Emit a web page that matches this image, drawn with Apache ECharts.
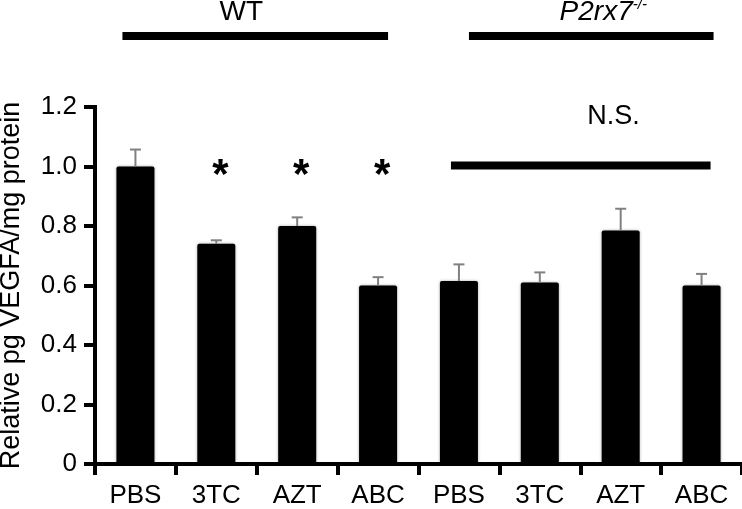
<!DOCTYPE html>
<html><head><meta charset="utf-8">
<script src="https://cdn.jsdelivr.net/npm/echarts@6/dist/echarts.min.js"></script>
<style>html,body{margin:0;padding:0;background:#fff}#c{width:742px;height:509px}</style>
</head><body><div id="c"></div>
<script>
// ---- data ----
const categories = ['PBS', '3TC', 'AZT', 'ABC', 'PBS', '3TC', 'AZT', 'ABC'];
const means = [1.00, 0.74, 0.80, 0.60, 0.615, 0.61, 0.785, 0.60];
const errors = [0.057, 0.012, 0.029, 0.028, 0.056, 0.034, 0.073, 0.039];
const starIndices = [1, 2, 3];
const starLevel = 1.0;
const groupNames = ['WT', 'P2rx7'];
const groupSup = ['', '-/-'];
const groupFrom = [0, 4];
const groupTo = [3, 7];
const nsFrom = 4, nsTo = 7, nsLevel = 1.0;
const yMin = 0, yMax = 1.2, yStep = 0.2;

// ---- style config ----
const FONT = '"Liberation Sans", Arial, Helvetica, sans-serif';
const bracketPad = [[-13, 10], [10, 12]];
const bracketTextDx = [-14, 12];

const chart = echarts.init(document.getElementById('c'));

function renderErr(params, api) {
  const x = api.value(0), m = api.value(1), e = api.value(2);
  const p0 = api.coord([x, m]);
  const p1 = api.coord([x, m + e]);
  const w = 5.5;
  return {
    type: 'group',
    children: [
      { type: 'line', shape: { x1: p0[0], y1: p0[1], x2: p1[0], y2: p1[1] }, style: { stroke: '#808080', lineWidth: 2 } },
      { type: 'line', shape: { x1: p1[0] - w, y1: p1[1], x2: p1[0] + w, y2: p1[1] }, style: { stroke: '#808080', lineWidth: 2 } }
    ]
  };
}

function renderStar(params, api) {
  const p = api.coord([api.value(0), starLevel]);
  return {
    type: 'text',
    style: { text: '*', x: p[0] + 4, y: p[1] + 10, align: 'center', verticalAlign: 'middle',
      font: 'bold 42px ' + FONT, fill: '#000' }
  };
}

function renderGroup(params, api) {
  const i = params.dataIndex;
  const a = api.coord([api.value(0), yMax]);
  const b = api.coord([api.value(1), yMax]);
  const x1 = a[0] + bracketPad[i][0], x2 = b[0] + bracketPad[i][1];
  const y = a[1] - 71;
  const cx = (x1 + x2) / 2 + bracketTextDx[i];
  const children = [
    { type: 'rect', shape: { x: x1, y: y - 4, width: x2 - x1, height: 8 }, style: { fill: '#000' } }
  ];
  if (groupSup[i]) {
    children.push({ type: 'text', style: {
      text: '{m|' + groupNames[i] + '}{s|' + groupSup[i] + '}',
      x: cx, y: y - 24, align: 'center', verticalAlign: 'middle',
      rich: {
        m: { fontFamily: FONT, fontSize: 28, fontStyle: 'italic', fill: '#000' },
        s: { fontFamily: FONT, fontSize: 15, fontStyle: 'italic', fill: '#000', verticalAlign: 'top', padding: [0, 0, 14, 0] }
      }
    }});
  } else {
    children.push({ type: 'text', style: { text: groupNames[i], x: cx, y: y - 24, align: 'center', verticalAlign: 'middle',
      font: '28px ' + FONT, fill: '#000' } });
  }
  return { type: 'group', children };
}

function renderNS(params, api) {
  const a = api.coord([api.value(0), nsLevel]);
  const b = api.coord([api.value(1), nsLevel]);
  const x1 = a[0] - 8, x2 = b[0] + 9;
  const y = a[1] - 1;
  return { type: 'group', children: [
    { type: 'rect', shape: { x: x1, y: y - 4, width: x2 - x1, height: 8 }, style: { fill: '#000' } },
    { type: 'text', style: { text: 'N.S.', x: (a[0] + b[0]) / 2 + 7, y: y - 49, align: 'left', verticalAlign: 'middle',
      font: '27px ' + FONT, fill: '#000' } }
  ]};
}

chart.setOption({
  animation: false,
  backgroundColor: '#fff',
  grid: { left: 95, right: 0, top: 107, bottom: 45, containLabel: false,
    outerBounds: { left: -200, right: -200, top: -200, bottom: -200 } },
  xAxis: {
    type: 'category', data: categories, boundaryGap: true,
    axisLine: { show: true, lineStyle: { color: '#000', width: 4, cap: 'square' } },
    axisTick: { show: true, length: 11, lineStyle: { color: '#000', width: 4 } },
    axisLabel: { color: '#000', fontSize: 26, fontFamily: FONT, margin: 19, interval: 0 },
    splitLine: { show: false }, z: 5
  },
  yAxis: {
    type: 'value', min: yMin, max: yMax, interval: yStep,
    name: 'Relative pg VEGFA/mg protein', nameLocation: 'middle', nameRotate: 90, nameGap: 70,
    nameMoveOverlap: false,
    nameTextStyle: { color: '#000', fontSize: 27, fontFamily: FONT },
    axisLine: { show: true, lineStyle: { color: '#000', width: 4, cap: 'square' } },
    axisTick: { show: true, length: 11, lineStyle: { color: '#000', width: 4 } },
    axisLabel: { color: '#000', fontSize: 26, fontFamily: FONT, margin: 18,
      formatter: v => v === 0 ? '0' : v.toFixed(1) },
    splitLine: { show: false }, z: 5
  },
  series: [
    { type: 'bar', data: means, barWidth: 38,
      itemStyle: { color: '#000', borderRadius: 2, shadowBlur: 3, shadowColor: 'rgba(0,0,0,0.35)' }, z: 2 },
    { type: 'custom', renderItem: renderErr, data: categories.map((c, i) => [i, means[i], errors[i]]),
      encode: { x: 0, y: 1 }, z: 3 },
    { type: 'custom', renderItem: renderStar, data: starIndices.map(i => [i, starLevel]), encode: { x: 0, y: 1 }, z: 4 },
    { type: 'custom', renderItem: renderGroup, data: groupFrom.map((f, i) => [f, groupTo[i]]), encode: { x: [0, 1] }, clip: false, z: 4 },
    { type: 'custom', renderItem: renderNS, data: [[nsFrom, nsTo]], encode: { x: [0, 1] }, clip: false, z: 4 }
  ]
});
</script>
</body></html>
